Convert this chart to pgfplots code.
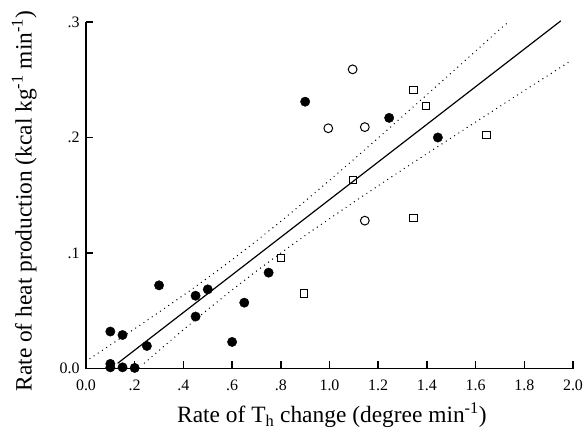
\documentclass[border=0pt]{standalone}
\usepackage{fontspec}
\setmainfont{Liberation Serif}
\usepackage{pgfplots}
\pgfplotsset{compat=1.18}
\begin{document}
\begin{tikzpicture}
\begin{axis}[
  scale only axis, width=487bp, height=346.5bp,
  xmin=0, xmax=2, ymin=0, ymax=0.3,
  axis x line*=bottom, axis y line*=left,
  axis line style={line width=1.6bp, black},
  xtick={0,0.2,0.4,0.6,0.8,1.0,1.2,1.4,1.6,1.8,2.0},
  xticklabels={0.0,.2,.4,.6,.8,1.0,1.2,1.4,1.6,1.8,2.0},
  ytick={0,0.1,0.2,0.3},
  yticklabels={0.0,.1,.2,.3},
  tick align=inside, major tick length=7bp,
  tick style={line width=1.6bp, black},
  ticklabel style={font=\fontsize{16}{18}\selectfont},
  yticklabel style={xshift=-3bp},
  xticklabel style={yshift=-8bp},
  label style={font=\fontsize{23.5}{26}\selectfont},
  xlabel={Rate of T\textsubscript{h} change (degree min\textsuperscript{-1})},
  ylabel={Rate of heat production (kcal kg\textsuperscript{-1} min\textsuperscript{-1})},
  xlabel style={at={(axis description cs:0.505,-0.134)}, anchor=center},
  ylabel style={at={(axis description cs:-0.127,0.483)}, anchor=center},
  clip=false,
]
% regression line
\addplot[black, line width=1.2bp] coordinates {(0.13,0.0045) (1.95,0.301)};
% upper confidence band
\addplot[black, line width=1.4bp, dash pattern=on 0pt off 5bp, line cap=round] coordinates {
(0.016,0.0086) (0.1,0.0203) (0.2,0.0344) (0.3,0.0488) (0.4,0.0634) (0.5,0.0785)
(0.6,0.0942) (0.7,0.1105) (0.8,0.1274) (0.9,0.1449) (1.0,0.1629) (1.1,0.1811)
(1.2,0.1996) (1.3,0.2183) (1.4,0.2370) (1.5,0.2559) (1.6,0.2748) (1.7,0.2938) (1.735,0.3)};
% lower confidence band
\addplot[black, line width=1.4bp, dash pattern=on 0pt off 5bp, line cap=round] coordinates {
(0.24,0.0047) (0.3,0.0156) (0.4,0.0336) (0.5,0.0511) (0.6,0.0680) (0.7,0.0843)
(0.8,0.1000) (0.9,0.1151) (1.0,0.1297) (1.1,0.1441) (1.2,0.1582) (1.3,0.1722)
(1.4,0.1860) (1.5,0.1997) (1.6,0.2134) (1.7,0.2270) (1.8,0.2406) (1.9,0.2541) (1.995,0.2670)};
% filled circles
\addplot[only marks, mark=*, mark size=4.7bp, black] coordinates {
(0.1,0.032) (0.1,0.004) (0.1,0.001) (0.15,0.029) (0.15,0.001) (0.2,0.0005)
(0.25,0.0195) (0.3,0.072) (0.45,0.063) (0.45,0.045) (0.5,0.0685) (0.6,0.023)
(0.65,0.057) (0.75,0.083) (0.9,0.231) (1.245,0.217) (1.445,0.200)};
% open circles
\addplot[only marks, mark=o, mark size=4.4bp, black, mark options={line width=1bp}] coordinates {
(1.095,0.259) (0.995,0.208) (1.145,0.209) (1.145,0.128)};
% open squares
\addplot[only marks, mark=square, mark size=3.6bp, black, mark options={line width=1bp}] coordinates {
(1.345,0.241) (1.395,0.227) (1.645,0.202) (1.095,0.163) (1.345,0.130) (0.895,0.065) (0.80,0.0955)};
\end{axis}
\pgfresetboundingbox
\path (-86bp,-62.5bp) rectangle (500bp,368.5bp);
\end{tikzpicture}
\end{document}
